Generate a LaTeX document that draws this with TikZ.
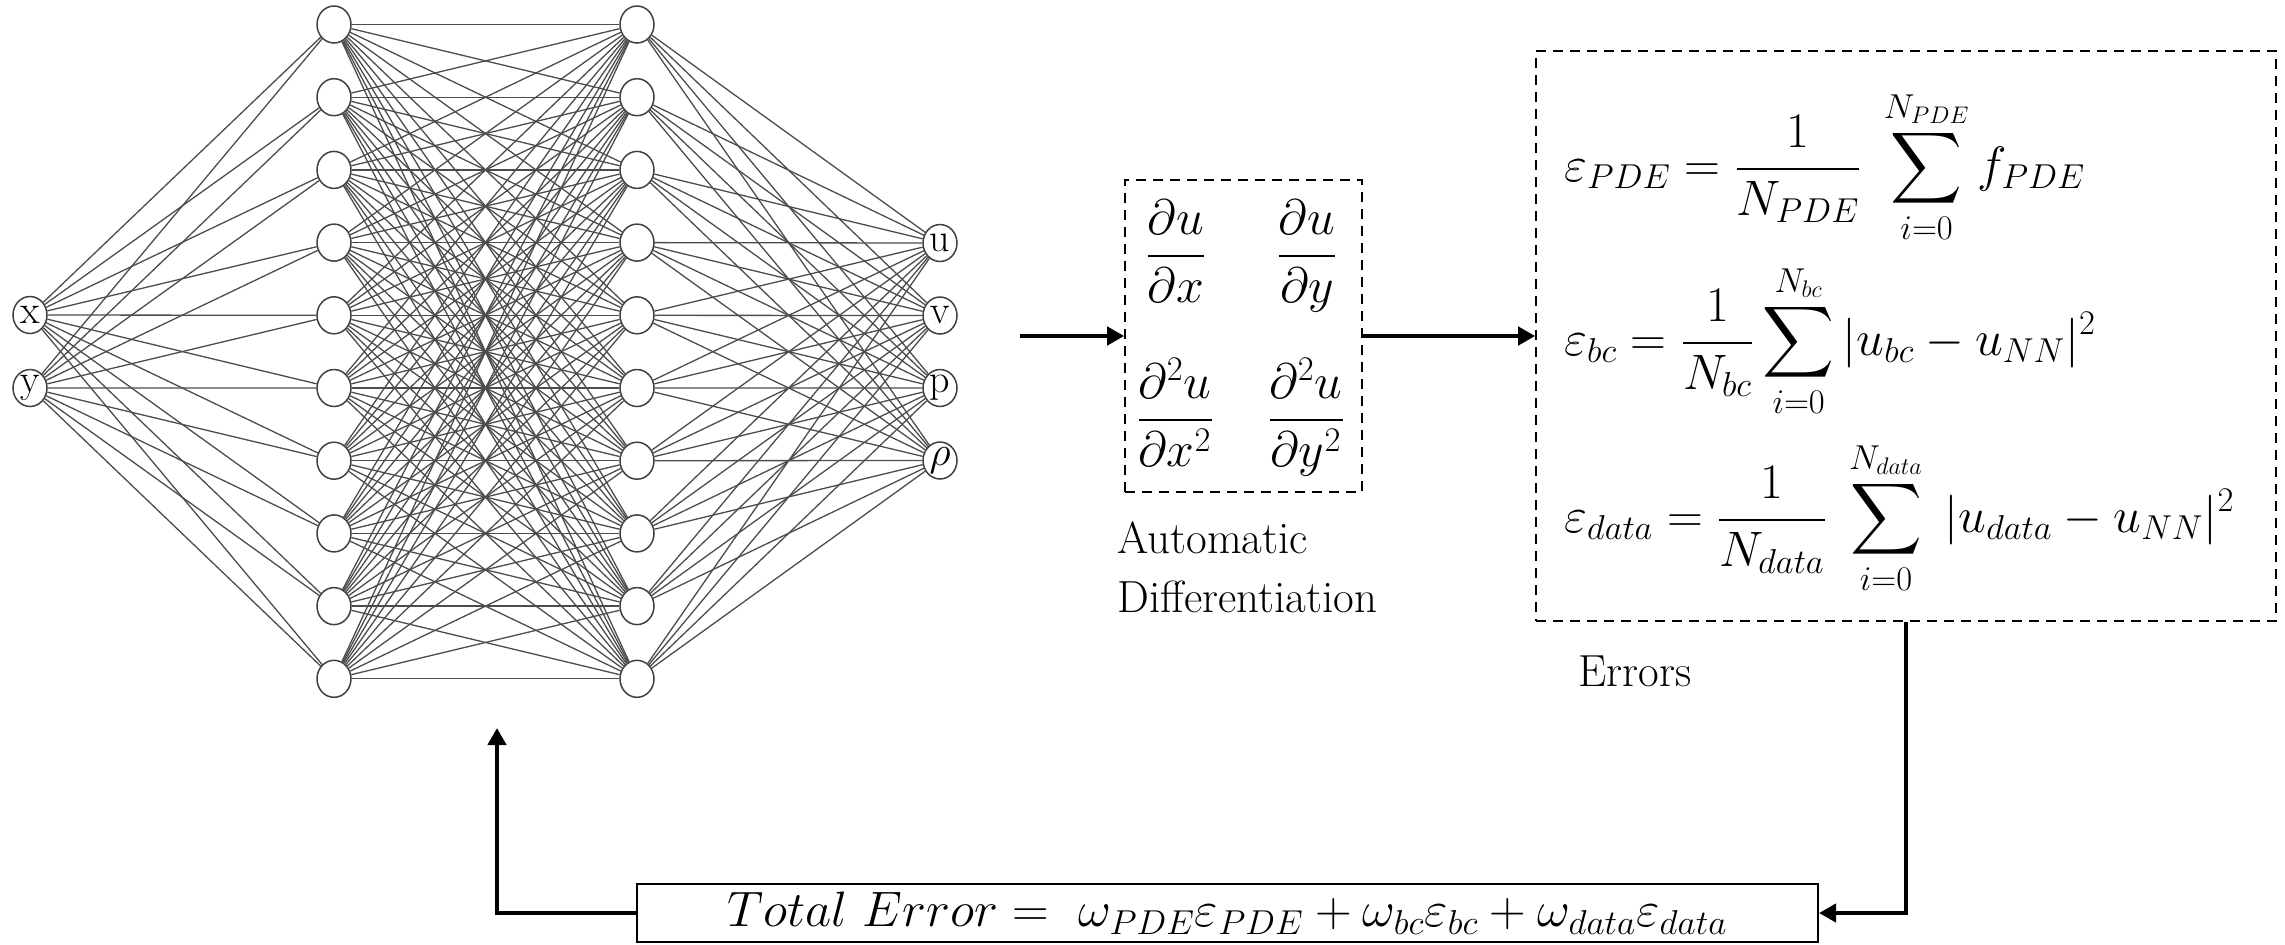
\documentclass[tikz,border=0pt]{standalone}
\usepackage{amsmath}
\usepackage{graphicx}
\usetikzlibrary{arrows.meta,shapes.geometric,calc}
\begin{document}
\begin{tikzpicture}[x=0.5pt,y=-0.5pt,
  neuron/.style={ellipse,draw=black!75,line width=0.75pt,fill=white,minimum width=17pt,minimum height=18.5pt,inner sep=0pt,font=\rmfamily\fontsize{20}{20}\selectfont},
  syn/.style={draw=black!70,line width=0.65pt},
  flow/.style={line width=2.2pt,-{Triangle[length=8.5pt,width=9pt]}},
  dbox/.style={draw,line width=0.8pt,dash pattern=on 5pt off 3.5pt},
  lbl/.style={font=\rmfamily\fontsize{22.5}{29}\selectfont,inner sep=0pt},
  eq/.style={font=\fontsize{25.5}{30}\selectfont,inner sep=0pt},
  deq/.style={font=\fontsize{25}{30}\selectfont,inner sep=0pt}]
\useasboundingbox (0,0) rectangle (2285,944);
% layers
\foreach \i in {1,...,10} {
  \node[neuron] (a\i) at (334,{24.5+72.7*(\i-1)}) {};
  \node[neuron] (b\i) at (637,{24.5+72.7*(\i-1)}) {};
}
\node[neuron] (x) at (30,315) {x};
\node[neuron] (y) at (30,388) {y};
\node[neuron] (o1) at (940,243) {u};
\node[neuron] (o2) at (940,315.5) {v};
\node[neuron] (o3) at (940,388) {p};
\node[neuron] (o4) at (940,460.5) {$\rho$};
\foreach \i in {1,...,10} {
  \draw[syn] (x) -- (a\i);
  \draw[syn] (y) -- (a\i);
  \foreach \j in {1,...,10} { \draw[syn] (a\i) -- (b\j); }
  \foreach \k in {1,...,4} { \draw[syn] (b\i) -- (o\k); }
}
% automatic differentiation
\node[dbox,minimum width=118.5pt,minimum height=156pt] (ad) at (1243.5,336) {};
\node[deq,anchor=base] (d1) at (1176,268) {$\displaystyle\frac{\partial u}{\partial x}$};
\node[deq,anchor=base] (d2) at (1307,268) {$\displaystyle\frac{\partial u}{\partial y}$};
\node[deq,anchor=base] (d3) at (1175,432) {$\displaystyle\frac{\partial^2 u}{\partial x^2}$};
\node[deq,anchor=base] (d4) at (1306,432) {$\displaystyle\frac{\partial^2 u}{\partial y^2}$};
\node[lbl,anchor=base west] (l1) at (1117,553) {Automatic};
\node[lbl,anchor=base west] (l2) at (1117,612) {Differentiation};
% errors
\node[dbox,minimum width=370pt,minimum height=285pt] (err) at (1906,336) {};
\node[eq,anchor=base west] (e1) at (1564,181) {$\displaystyle\varepsilon_{PDE}=\frac{1}{N_{PDE}}\;\sum_{i=0}^{N_{PDE}} f_{PDE}$};
\node[eq,anchor=base west] (e2) at (1564,355) {$\displaystyle\varepsilon_{bc}=\frac{1}{N_{bc}}\sum_{i=0}^{N_{bc}}|u_{bc}-u_{NN}|^2$};
\node[eq,anchor=base west] (e3) at (1564,532) {$\displaystyle\varepsilon_{data}=\frac{1}{N_{data}}\;\sum_{i=0}^{N_{data}}\;|u_{data}-u_{NN}|^2$};
\node[lbl,anchor=base west] (l3) at (1578,686) {Errors};
% total error
\node[draw,line width=1pt,minimum width=590.5pt,minimum height=29pt,inner sep=0pt] (tot) at (1227.5,913)
  {\fontsize{25}{28}\selectfont\resizebox{500pt}{\height}{$Total\ Error=\ \omega_{PDE}\varepsilon_{PDE}+\omega_{bc}\varepsilon_{bc}+\omega_{data}\varepsilon_{data}$}};
% connectors
\coordinate (nnout) at (1020,336);
\coordinate (fb) at (497,728);
\draw[flow] (nnout) -- (ad.west);
\draw[flow] (ad.east) -- (err.west);
\draw[flow] (err.south) |- (tot.east);
\draw[flow] (tot.west) -| (fb);
\end{tikzpicture}
\end{document}
